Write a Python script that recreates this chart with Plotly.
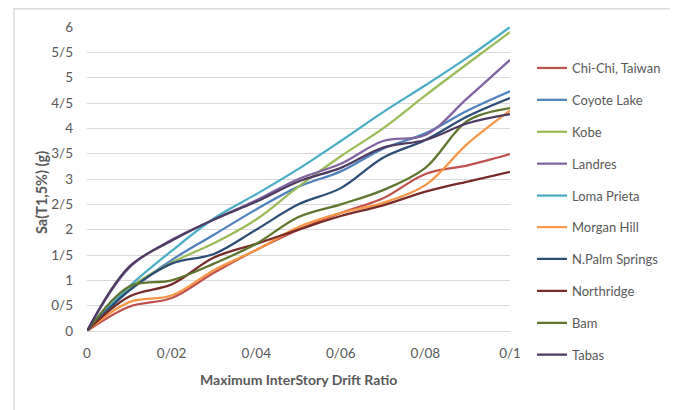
import plotly.graph_objects as go

drift = [0, 0.01, 0.02, 0.03, 0.04, 0.05, 0.06, 0.07, 0.08, 0.09, 0.1]

chi_chi = [0, 0.48, 0.65, 1.15, 1.6, 2.0, 2.33, 2.62, 3.1, 3.27, 3.49]
coyote_lake = [0, 0.8, 1.4, 1.9, 2.4, 2.85, 3.15, 3.6, 3.9, 4.35, 4.73]
kobe = [0, 0.85, 1.35, 1.73, 2.2, 2.85, 3.45, 4.0, 4.65, 5.28, 5.9]
landres = [0, 1.25, 1.8, 2.2, 2.58, 3.0, 3.3, 3.75, 3.87, 4.6, 5.35]
loma_prieta = [0, 0.88, 1.58, 2.22, 2.7, 3.2, 3.75, 4.32, 4.85, 5.4, 6.0]
morgan_hill = [0, 0.57, 0.7, 1.2, 1.6, 2.05, 2.33, 2.53, 2.88, 3.7, 4.35]
n_palm_springs = [0, 0.8, 1.33, 1.52, 2.0, 2.5, 2.82, 3.42, 3.77, 4.24, 4.6]
northridge = [0, 0.68, 0.92, 1.45, 1.72, 2.0, 2.27, 2.48, 2.75, 2.95, 3.14]
bam = [0, 0.88, 1.0, 1.33, 1.72, 2.25, 2.5, 2.78, 3.22, 4.15, 4.4]
tabas = [0, 1.27, 1.78, 2.2, 2.55, 2.95, 3.22, 3.62, 3.77, 4.1, 4.28]

series_names = ["Chi-Chi, Taiwan", "Coyote Lake", "Kobe", "Landres", "Loma Prieta",
                "Morgan Hill", "N.Palm Springs", "Northridge", "Bam", "Tabas"]
series_values = [chi_chi, coyote_lake, kobe, landres, loma_prieta,
                 morgan_hill, n_palm_springs, northridge, bam, tabas]
colors = ["#C0504D", "#4F81BD", "#9BBB59", "#8064A2", "#4BACC6",
          "#F79646", "#2C4D75", "#772C2A", "#5F7530", "#4D3B62"]

y_tick_vals = [0, 0.5, 1, 1.5, 2, 2.5, 3, 3.5, 4, 4.5, 5, 5.5, 6]
y_tick_text = ["0", "0/5", "1", "1/5", "2", "2/5", "3", "3/5", "4", "4/5", "5", "5/5", "6"]
x_tick_vals = [0, 0.02, 0.04, 0.06, 0.08, 0.1]
x_tick_text = ["0", "0/02", "0/04", "0/06", "0/08", "0/1"]

FONT = "Lato"
GRAY = "#595959"

fig = go.Figure()
for i, (name, vals, col) in enumerate(zip(series_names, series_values, colors)):
    fig.add_trace(go.Scatter(
        x=drift, y=vals, name=name, mode="lines",
        line=dict(color=col, width=2.25, shape="spline", smoothing=1.0),
        legendgroup="g%d" % i,
        legend="legend" if i < 5 else "legend2",
    ))

legend_common = dict(
    xanchor="left", yanchor="top",
    font=dict(family=FONT, size=13, color=GRAY),
    tracegroupgap=12, bgcolor="rgba(0,0,0,0)", itemwidth=30,
)

fig.update_layout(
    width=678, height=410,
    margin=dict(l=79, r=176, t=19, b=87, autoexpand=False),
    paper_bgcolor="white", plot_bgcolor="white",
    font=dict(family=FONT, size=13, color=GRAY),
    showlegend=True,
    legend=dict(x=1.052, y=0.9145, **legend_common),
    legend2=dict(x=1.052, y=0.391, **legend_common),
    xaxis=dict(
        range=[0, 0.1], tickvals=x_tick_vals, ticktext=x_tick_text,
        showgrid=False, zeroline=False, showline=True, linecolor="#d9d9d9", linewidth=1,
        ticks="", ticklabelstandoff=10,
        tickfont=dict(family=FONT, size=13.5, color=GRAY),
    ),
    yaxis=dict(
        range=[0, 6], tickvals=y_tick_vals, ticktext=y_tick_text,
        showgrid=True, gridcolor="#d9d9d9", gridwidth=1,
        zeroline=False, showline=False, ticks="", ticklabelstandoff=13,
        tickfont=dict(family=FONT, size=13.5, color=GRAY),
    ),
    shapes=[dict(type="rect", xref="paper", yref="paper",
                 x0=-0.1726, x1=1.385, y0=-0.30, y1=1.060,
                 line=dict(color="#d9d9d9", width=1.5), layer="below")],
    annotations=[
        dict(text="<b>Maximum InterStory Drift Ratio</b>", xref="paper", yref="paper",
             x=0.499, y=-0.161, showarrow=False, xanchor="center", yanchor="middle",
             font=dict(family=FONT, size=14, color=GRAY)),
        dict(text="<b>Sa(T1,5%) (g)</b>", xref="paper", yref="paper",
             x=-0.108, y=0.455, showarrow=False, xanchor="center", yanchor="middle",
             textangle=-90, font=dict(family=FONT, size=14.5, color=GRAY)),
    ],
)

fig.write_html("out.html")
